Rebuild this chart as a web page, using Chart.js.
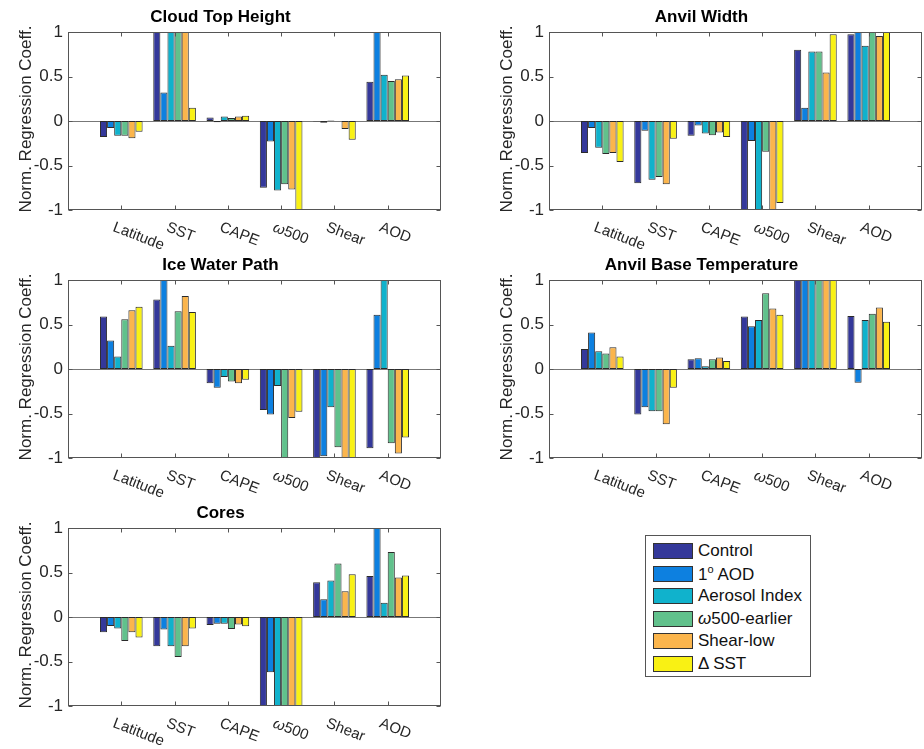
<!DOCTYPE html>
<html>
<head>
<meta charset="utf-8">
<script src="https://cdn.jsdelivr.net/npm/chart.js@4.4.1/dist/chart.umd.min.js"></script>
<style>
body{margin:0;background:#fff;width:924px;height:749px;position:relative;overflow:hidden;font-family:"Liberation Sans",Arial,sans-serif}
canvas{position:absolute}
#legend{position:absolute;left:645px;top:535px;width:166px;height:142px;border:1px solid #555;box-sizing:border-box;background:#fff}
.item{position:absolute;left:7px;height:22px;display:flex;align-items:center;font-size:17px;color:#111;white-space:nowrap}
.sw{width:40px;height:16px;box-sizing:border-box;border:1px solid #333;margin-right:5px}
</style>
</head>
<body>
<div id="legend"></div>
<script>
const categories = ['Latitude', 'SST', 'CAPE', 'ω500', 'Shear', 'AOD'];
const seriesNames = ['Control', '1° AOD', 'Aerosol Index', 'ω500-earlier', 'Shear-low', 'Δ SST'];
const yTicks = [-1, -0.5, 0, 0.5, 1];
const panelTitles = ['Cloud Top Height', 'Anvil Width', 'Ice Water Path', 'Anvil Base Temperature', 'Cores'];

// one row per series, columns follow categories
const cloudTopHeight = [
  [-0.18, 1, 0.04, -0.75, -0.005, 0.44],
  [-0.08, 0.32, -0.015, -0.23, -0.02, 1],
  [-0.165, 1, 0.05, -0.78, 0.005, 0.52],
  [-0.165, 1, 0.035, -0.71, 0, 0.45],
  [-0.195, 1, 0.05, -0.77, -0.09, 0.47],
  [-0.12, 0.15, 0.06, -1, -0.21, 0.51]
];
const anvilWidth = [
  [-0.36, -0.70, -0.165, -1, 0.80, 0.975],
  [-0.08, -0.11, -0.05, -0.225, 0.15, 1],
  [-0.30, -0.66, -0.14, -1, 0.78, 0.845],
  [-0.37, -0.63, -0.16, -0.345, 0.78, 1],
  [-0.36, -0.71, -0.13, -1, 0.545, 0.955],
  [-0.46, -0.20, -0.18, -0.92, 0.975, 1]
];
const iceWaterPath = [
  [0.59, 0.78, -0.16, -0.46, -1, -0.89],
  [0.32, 1, -0.21, -0.51, -0.98, 0.61],
  [0.14, 0.26, -0.09, -0.19, -0.43, 1],
  [0.56, 0.65, -0.14, -1, -0.88, -0.835],
  [0.66, 0.82, -0.16, -0.55, -1, -0.95],
  [0.70, 0.64, -0.12, -0.48, -1, -0.77]
];
const anvilBaseTemp = [
  [0.225, -0.51, 0.11, 0.59, 1, 0.595],
  [0.41, -0.43, 0.12, 0.48, 1, -0.155],
  [0.20, -0.475, 0.03, 0.55, 1, 0.55],
  [0.175, -0.475, 0.11, 0.85, 1, 0.62],
  [0.245, -0.62, 0.13, 0.68, 1, 0.69],
  [0.14, -0.21, 0.09, 0.61, 1, 0.53]
];
const cores = [
  [-0.17, -0.33, -0.09, -1, 0.39, 0.46],
  [-0.10, -0.14, -0.075, -0.62, 0.20, 1],
  [-0.13, -0.33, -0.075, -1, 0.41, 0.16],
  [-0.27, -0.45, -0.135, -1, 0.60, 0.73],
  [-0.17, -0.33, -0.085, -1, 0.29, 0.445],
  [-0.23, -0.13, -0.105, -1, 0.48, 0.465]
];

const panelValues = [cloudTopHeight, anvilWidth, iceWaterPath, anvilBaseTemp, cores];
const colors = ['#34389a', '#0d80e0', '#10b2cc', '#61c18c', '#fbb54c', '#f9f114'];

// canvas placement (left, top, width, right padding)
const layoutPos = [
  {l: 0, t: 0, w: 462, pr: 21},
  {l: 481, t: 0, w: 443, pr: 2},
  {l: 0, t: 248, w: 462, pr: 21},
  {l: 481, t: 248, w: 443, pr: 2},
  {l: 0, t: 496, w: 462, pr: 21}
];

const FONT = '"Liberation Sans", Arial, sans-serif';
const AX = '#555';

function drawRich(ctx, text, size){
  // italic omega like the TeX label
  let x = 0;
  text.split(/(ω)/).forEach(p => {
    if(!p) return;
    ctx.font = (p == 'ω' ? 'italic ' : '') + size + 'px ' + FONT;
    ctx.fillText(p, x, 0);
    x += ctx.measureText(p).width;
  });
}

const boxPlugin = {
  id: 'box',
  beforeDatasetsDraw(chart){
    const {ctx, chartArea: a, scales: {y}} = chart;
    const y0 = Math.round(y.getPixelForValue(0)) + 0.5;
    ctx.save();
    ctx.strokeStyle = '#777';
    ctx.lineWidth = 1;
    ctx.beginPath();
    ctx.moveTo(a.left, y0);
    ctx.lineTo(a.right, y0);
    ctx.stroke();
    ctx.restore();
  },
  afterDraw(chart){
    const {ctx, chartArea: a, scales: {x, y}} = chart;
    ctx.save();
    ctx.strokeStyle = AX;
    ctx.lineWidth = 1;
    const L = Math.round(a.left) + 0.5, R = Math.round(a.right) - 0.5;
    const T = Math.round(a.top) + 0.5, B = Math.round(a.bottom) - 0.5;
    ctx.strokeRect(L, T, R - L, B - T);
    ctx.beginPath();
    yTicks.forEach(v => {
      const py = Math.round(y.getPixelForValue(v)) + 0.5;
      ctx.moveTo(L, py); ctx.lineTo(L + 4, py);
      ctx.moveTo(R, py); ctx.lineTo(R - 4, py);
    });
    categories.forEach((c, i) => {
      const px = Math.round(x.getPixelForValue(i + 1)) + 0.5;
      ctx.moveTo(px, B); ctx.lineTo(px, B - 4);
      ctx.moveTo(px, T); ctx.lineTo(px, T + 4);
    });
    ctx.stroke();

    // rotated category labels
    ctx.fillStyle = '#262626';
    ctx.textAlign = 'left';
    ctx.textBaseline = 'top';
    categories.forEach((c, i) => {
      const px = x.getPixelForValue(i + 1);
      ctx.save();
      ctx.translate(px - 5, a.bottom + 10);
      ctx.rotate(21 * Math.PI / 180);
      drawRich(ctx, c, 15);
      ctx.restore();
    });

    // y title
    ctx.save();
    ctx.translate(a.left - 42, (a.top + a.bottom) / 2 - 2);
    ctx.rotate(-Math.PI / 2);
    ctx.textAlign = 'center';
    ctx.textBaseline = 'middle';
    ctx.font = '17px ' + FONT;
    ctx.fillText('Norm. Regression Coeff.', 0, 0);
    ctx.restore();
    ctx.restore();
  }
};

function makePanel(idx){
  const pos = layoutPos[idx];
  const values = panelValues[idx];
  const cv = document.createElement('canvas');
  cv.width = pos.w;
  cv.height = 256;
  cv.style.left = pos.l + 'px';
  cv.style.top = pos.t + 'px';
  document.body.appendChild(cv);

  new Chart(cv, {
    type: 'bar',
    data: {
      datasets: seriesNames.map((n, s) => ({
        label: n,
        data: values[s].map((v, i) => ({x: i + 1, y: v})),
        backgroundColor: colors[s],
        borderColor: '#2a2a2a',
        borderWidth: 1,
        borderSkipped: false,
        categoryPercentage: 0.8,
        barPercentage: 1
      }))
    },
    options: {
      responsive: false,
      animation: false,
      layout: {padding: {left: 0, right: pos.pr, top: 0, bottom: 0}},
      plugins: {
        legend: {display: false},
        tooltip: {enabled: false},
        title: {
          display: true,
          text: panelTitles[idx],
          color: '#000',
          font: {size: 17, weight: 'bold', family: FONT},
          padding: {top: 7, bottom: 4.6}
        }
      },
      scales: {
        x: {
          type: 'linear', min: 0, max: 7, offset: false,
          grid: {display: false}, border: {display: false},
          ticks: {display: false},
          afterFit: s => { s.height = 46; }
        },
        y: {
          min: -1, max: 1,
          afterBuildTicks: s => { s.ticks = yTicks.map(v => ({value: v})); },
          grid: {display: false, drawTicks: false}, border: {display: false},
          ticks: {color: '#262626', padding: 5, font: {size: 17, family: FONT}, callback: v => String(v)},
          afterFit: s => { s.width = 68; }
        }
      }
    },
    plugins: [boxPlugin]
  });
}

panelTitles.forEach((t, i) => makePanel(i));

// legend
const leg = document.getElementById('legend');
seriesNames.forEach((n, s) => {
  const it = document.createElement('div');
  it.className = 'item';
  it.style.top = (4 + s * 22.6) + 'px';
  const label = n.replace('ω', '<i>ω</i>').replace('1° ', '1<sup style="font-size:11px">o</sup> ');
  it.innerHTML = '<div class="sw" style="background:' + colors[s] + '"></div><span>' + label + '</span>';
  leg.appendChild(it);
});
</script>
</body>
</html>
